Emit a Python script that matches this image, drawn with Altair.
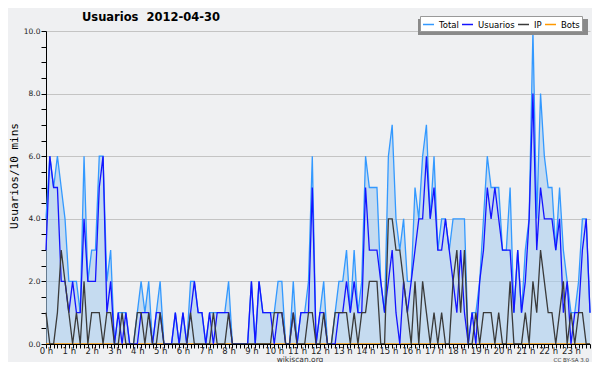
import altair as alt
import pandas as pd

# 10-minute slots of the day (0 .. 143)
slots = list(range(144))

total = [4, 6, 5, 6, 5, 4, 2, 2, 2, 1,
         6, 2, 3, 3, 6, 6, 2, 3, 0, 1,
         1, 1, 0, 0, 1, 2, 1, 2, 0, 1,
         2, 0, 0, 0, 1, 0, 1, 0, 2, 2,
         1, 1, 0, 1, 1, 1, 1, 1, 2, 0,
         0, 0, 0, 0, 2, 0, 2, 1, 1, 1,
         1, 2, 2, 0, 0, 2, 0, 1, 1, 2,
         6, 0, 1, 2, 0, 0, 1, 2, 2, 3,
         1, 3, 1, 2, 6, 5, 5, 5, 2, 1,
         6, 7, 4, 3, 4, 2, 2, 5, 4, 6,
         7, 4, 6, 3, 4, 4, 3, 4, 4, 4,
         4, 0, 1, 1, 2, 4, 6, 5, 5, 5,
         3, 3, 5, 1, 3, 1, 3, 4, 10, 4,
         8, 6, 5, 5, 3, 5, 3, 2, 1, 1,
         2, 4, 4, 1]

usuarios = [3, 6, 5, 5, 2, 2, 1, 2, 1, 1,
            4, 2, 2, 2, 5, 6, 1, 2, 0, 1,
            0, 1, 0, 0, 0, 1, 1, 1, 0, 1,
            1, 0, 0, 0, 1, 0, 1, 0, 1, 2,
            1, 1, 0, 1, 0, 1, 1, 1, 1, 0,
            0, 0, 0, 0, 2, 0, 2, 1, 1, 1,
            0, 1, 1, 0, 0, 1, 0, 1, 1, 1,
            5, 0, 1, 1, 0, 0, 0, 1, 1, 2,
            1, 2, 1, 1, 5, 3, 3, 3, 2, 1,
            2, 3, 1, 0, 2, 1, 2, 3, 4, 4,
            6, 4, 5, 3, 3, 4, 3, 2, 1, 3,
            1, 0, 1, 0, 2, 3, 5, 4, 5, 4,
            3, 3, 3, 1, 3, 1, 2, 4, 8, 3,
            5, 4, 4, 4, 3, 4, 1, 2, 0, 1,
            1, 3, 4, 1]

ip = [1, 0, 0, 1, 3, 2, 1, 0, 1, 0,
      2, 0, 1, 1, 1, 0, 1, 1, 0, 0,
      1, 0, 0, 0, 1, 1, 0, 1, 0, 0,
      1, 0, 0, 0, 0, 0, 0, 0, 1, 0,
      0, 0, 0, 0, 1, 0, 0, 0, 1, 0,
      0, 0, 0, 0, 0, 0, 0, 0, 0, 0,
      1, 1, 1, 0, 0, 1, 0, 0, 0, 1,
      1, 0, 0, 1, 0, 0, 1, 1, 1, 1,
      0, 1, 0, 1, 1, 2, 2, 2, 0, 0,
      4, 4, 3, 3, 2, 1, 0, 2, 0, 2,
      1, 0, 1, 0, 1, 0, 0, 2, 3, 1,
      3, 0, 0, 1, 0, 1, 1, 1, 0, 1,
      0, 0, 2, 0, 0, 0, 1, 0, 2, 1,
      3, 2, 1, 1, 0, 1, 2, 0, 1, 0,
      1, 1, 0, 0]

bots = [0] * 144

series_names = ["Total", "Usuarios", "IP", "Bots"]
series_colors = ["#3399ff", "#1414ff", "#3a3a3a", "#ff9900"]

title_text = "Usuarios\u00a0\u00a02012-04-30"
ytitle_text = "Usuarios/10 mins"
footer_text = "wikiscan.org"
license_text = "CC BY-SA 3.0"

rows = []
for name, vals in zip(series_names, [total, usuarios, ip, bots]):
    for s, v in zip(slots, vals):
        rows.append({"slot": s, "series": name, "value": v})
df = pd.DataFrame(rows)

BG = "#eff0f2"
y_ticks = [k * 0.5 for k in range(21)]

x_enc = alt.X(
    "slot:Q",
    scale=alt.Scale(domain=[0, 143], nice=False, zero=False),
    axis=alt.Axis(
        values=slots,
        labelExpr="datum.value % 6 == 0 ? (datum.value / 6) + ' h' : ''",
        title=None, grid=False, tickSize=4, tickColor="black", tickWidth=1,
        domainColor="black", domainWidth=1,
        labelFont="DejaVu Sans", labelFontSize=8.5, labelColor="#222222",
        labelPadding=-2, labelOverlap=False, labelFlush=False, zindex=1,
    ),
)
y_enc = alt.Y(
    "value:Q",
    scale=alt.Scale(domain=[0, 10], nice=False),
    axis=alt.Axis(
        values=y_ticks,
        labelExpr="datum.value % 2 == 0 ? format(datum.value, '.1f') : ''",
        title=None, tickSize=5, tickColor="black", domainColor="black",
        gridColor="#c4c4c4", gridWidth=1,
        gridOpacity={"condition": {"test": "datum.value % 2 == 0 && datum.value > 0", "value": 1}, "value": 0},
        labelFont="DejaVu Sans", labelFontSize=7.5, labelColor="#222222",
        labelPadding=1, labelOverlap=False, labelFlush=False,
    ),
)

color_enc = alt.Color(
    "series:N",
    scale=alt.Scale(domain=series_names, range=series_colors),
    legend=alt.Legend(
        title=None, orient="none", legendX=374, legendY=-15, direction="horizontal",
        fillColor="white", strokeColor="#999999", padding=2,
        symbolType="stroke", symbolSize=121, symbolStrokeWidth=1.5,
        labelFont="DejaVu Sans", labelFontSize=8.5, labelColor="black",
        columnPadding=0, labelOffset=4, zindex=1,
    ),
)

base = alt.Chart(df).encode(x=x_enc, y=y_enc)

area = base.transform_filter(alt.datum.series == "Total").mark_area(
    color="#a8cdee", opacity=0.6, interpolate="linear")

def line_for(name):
    return base.transform_filter(alt.datum.series == name).mark_line(
        strokeWidth=1.3, interpolate="linear").encode(color=color_enc)

one = pd.DataFrame({"k": [0]})
shadow = alt.Chart(one).mark_rect(color="#8a8a8a").encode(
    x=alt.value(372), x2=alt.value(542), y=alt.value(-12), y2=alt.value(4))

title = alt.Chart(one).mark_text(
    text=title_text, font="DejaVu Sans", fontWeight="bold", fontSize=11.5,
    align="center", baseline="alphabetic", color="black").encode(
    x=alt.value(105), y=alt.value(-10))
ytitle = alt.Chart(one).mark_text(
    text=ytitle_text, font="DejaVu Sans Mono", fontSize=11, angle=270,
    align="center", baseline="middle", color="black").encode(
    x=alt.value(-31), y=alt.value(145))
footer = alt.Chart(one).mark_text(
    text=footer_text, font="DejaVu Sans", fontSize=7.5, align="center",
    baseline="alphabetic", color="#333333").encode(
    x=alt.value(254), y=alt.value(330.5))
lic = alt.Chart(one).mark_text(
    text=license_text, font="DejaVu Sans", fontSize=5.5, align="right",
    baseline="alphabetic", color="#333333").encode(
    x=alt.value(543), y=alt.value(330.5))

chart = alt.layer(
    area, line_for("Bots"), line_for("Total"), line_for("Usuarios"), line_for("IP"),
    shadow, title, ytitle, footer, lic,
).properties(
    width=544, height=313,
    autosize=alt.AutoSizeParams(type="none"),
    padding={"left": 38, "top": 23, "right": 2, "bottom": 18},
    background=BG,
).configure_view(strokeWidth=0, fill=BG)

chart.save("out.html", embed_options={"renderer": "svg", "actions": False})
